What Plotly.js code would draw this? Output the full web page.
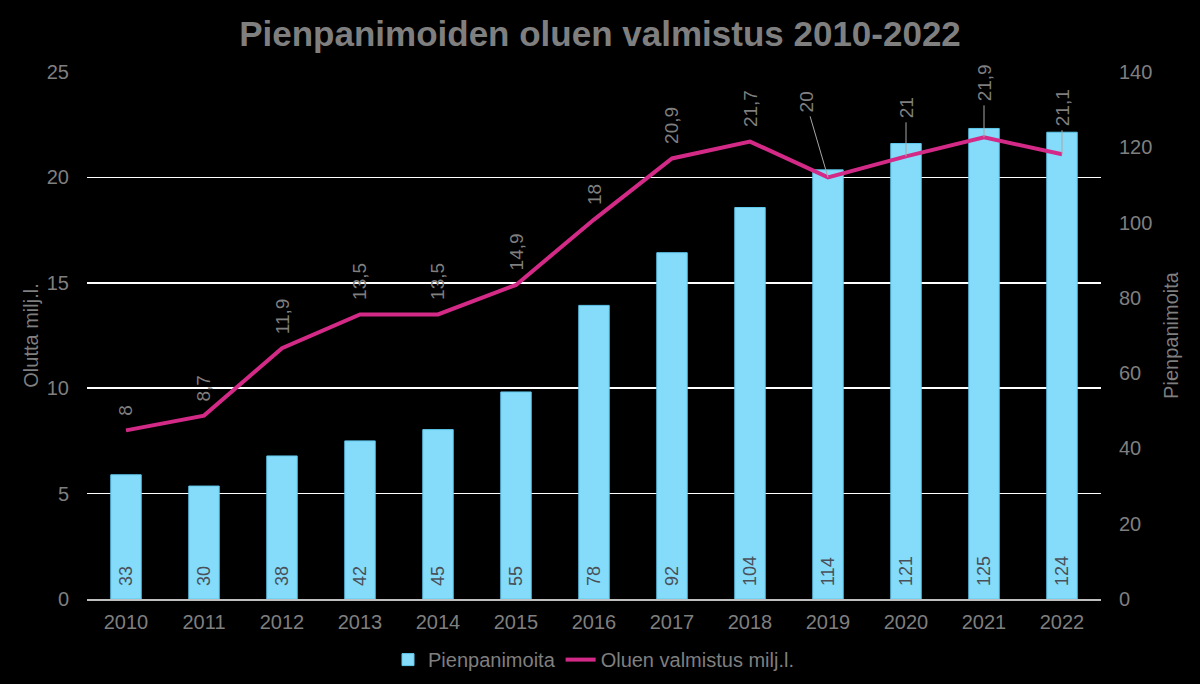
<!DOCTYPE html>
<html>
<head>
<meta charset="utf-8">
<script src="https://cdn.plot.ly/plotly-3.0.1.min.js"></script>
<style>html,body{margin:0;padding:0;background:#000;}#chart{width:1200px;height:684px;}</style>
</head>
<body>
<div id="chart"></div>
<script>
const years = ['2010','2011','2012','2013','2014','2015','2016','2017','2018','2019','2020','2021','2022'];
const breweries = [33,30,38,42,45,55,78,92,104,114,121,125,124];
const production = [8,8.7,11.9,13.5,13.5,14.9,18,20.9,21.7,20,21,21.9,21.1];
const productionLabels = ['8','8,7','11,9','13,5','13,5','14,9','18','20,9','21,7','20','21','21,9','21,1'];
// label offsets with leader lines (pixels) for the last years
const leaderOffsets = {'2019':[-22,-75],'2020':[0,-48],'2021':[0,-54],'2022':[0,-46]};

const grey = '#7f7f7f';
const fontFam = 'Liberation Sans, Arial, sans-serif';

const barTrace = {
  type:'bar', x: years, y: breweries, name:'Pienpanimoita', yaxis:'y',
  marker:{color:'#84dcfa', line:{color:'#5ec8ee', width:1}},
  width:0.39,
  text: breweries.map(v => '\u00a0\u00a0' + v), textposition:'inside', insidetextanchor:'start',
  textangle:-90, textfont:{color:'#4a5058', size:18, family:fontFam},
  hoverinfo:'skip'
};
const lineTrace = {
  type:'scatter', mode:'lines', x: years, y: production, name:'Oluen valmistus milj.l.',
  yaxis:'y2', line:{color:'#d42a87', width:4}
};

const annotations = years.map((yr,i)=>{
  const base = {x:i, y:production[i], xref:'x', yref:'y2', text:productionLabels[i],
    textangle:-90, font:{color:grey, size:19, family:fontFam}};
  if (leaderOffsets[yr]) {
    return Object.assign(base,{showarrow:true, arrowhead:0, arrowwidth:1, arrowcolor:'#a6a6a6',
      ax:leaderOffsets[yr][0], ay:leaderOffsets[yr][1], standoff:0, startstandoff:2});
  }
  return Object.assign(base,{showarrow:false, yanchor:'bottom', xanchor:'center', yshift:12});
});

const layout = {
  width:1200, height:684,
  paper_bgcolor:'#000', plot_bgcolor:'#000',
  margin:{l:87, r:99, t:72, b:85, autoexpand:false},
  font:{family:fontFam, color:grey, size:20},
  title:{text:'<b>Pienpanimoiden oluen valmistus 2010-2022</b>', x:0.5, xanchor:'center', y:0.95, yanchor:'middle',
    font:{size:35, color:grey, family:fontFam}},
  bargap:0.6,
  showlegend:true,
  legend:{orientation:'h', x:0.5, xanchor:'center', y:-0.078, yanchor:'top',
    font:{size:20, color:grey, family:fontFam}, traceorder:'normal', itemwidth:30},
  xaxis:{type:'category', range:[-0.5,12.5], autorange:false, showgrid:false, showline:true, linecolor:'#bfbfbf', linewidth:2,
    ticks:'', tickfont:{size:20, color:grey}, fixedrange:true, zeroline:false, ticklabelstandoff:4},
  yaxis:{range:[0,140], dtick:20, side:'right', showgrid:false, zeroline:false,
    tickfont:{size:20, color:grey}, ticks:'', ticklabelstandoff:17,
    title:{text:'Pienpanimoita', font:{size:20, color:grey}, standoff:12}},
  yaxis2:{range:[0,25], dtick:5, side:'left', overlaying:'y', showgrid:true, gridcolor:'#ffffff', gridwidth:1.5,
    zeroline:false, tickfont:{size:20, color:grey}, ticks:'', ticklabelstandoff:17,
    title:{text:'Olutta milj.l.', font:{size:20, color:grey}, standoff:2}},
  annotations: annotations
};

Plotly.newPlot('chart',[barTrace,lineTrace],layout,{displayModeBar:false, staticPlot:true});
</script>
</body>
</html>
